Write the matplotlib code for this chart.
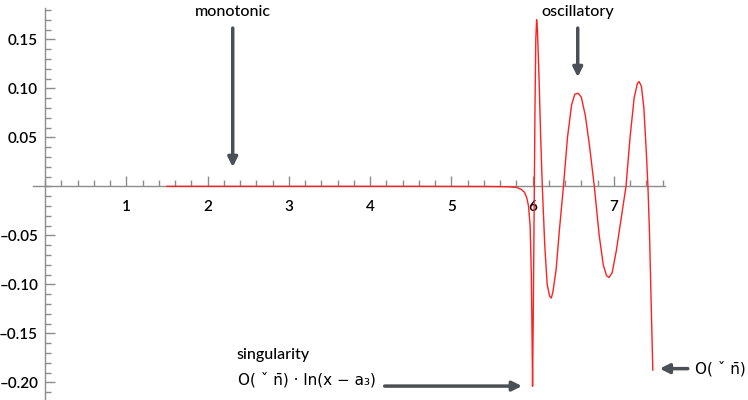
import matplotlib
matplotlib.use("Agg")
import matplotlib.pyplot as plt
from matplotlib.ticker import MultipleLocator, FuncFormatter

plt.rcParams['font.family'] = ['Lato', 'DejaVu Sans']

# curve values
x_vals = [1.5, 3.0, 4.5, 5.5, 5.7, 5.8, 5.86, 5.9, 5.93, 5.95, 5.97, 5.985, 5.995, 6.0,
          6.01, 6.02, 6.03, 6.04, 6.05, 6.06, 6.08, 6.10, 6.12, 6.15, 6.18, 6.21, 6.23,
          6.25, 6.29, 6.33, 6.38, 6.43, 6.48, 6.52, 6.56, 6.60, 6.65, 6.70, 6.76, 6.82,
          6.87, 6.91, 6.94, 6.98, 7.03, 7.09, 7.15, 7.20, 7.25, 7.29, 7.31, 7.34, 7.37,
          7.40, 7.42, 7.44, 7.46, 7.48]
y_vals = [0.0, 0.0, 0.0, -0.0002, -0.0004, -0.001, -0.003, -0.006, -0.012, -0.02, -0.04,
          -0.09, -0.16, -0.204,
          -0.12, -0.02, 0.08, 0.15, 0.17, 0.16, 0.11, 0.05, 0.0, -0.06, -0.10, -0.112, -0.114,
          -0.108, -0.085, -0.045, 0.0, 0.05, 0.083, 0.094, 0.095, 0.091, 0.072, 0.042, 0.0, -0.05,
          -0.08, -0.091, -0.093, -0.088, -0.066, -0.033, 0.0, 0.05, 0.09, 0.105, 0.107, 0.102, 0.08,
          0.035, 0.0, -0.05, -0.12, -0.1875]

x_labels = [1, 2, 3, 4, 5, 6, 7]
y_labels = [-0.20, -0.15, -0.10, -0.05, 0.05, 0.10, 0.15]

arrow_color = "#4a5055"
tick_color = "#8c8c8c"

fig = plt.figure(figsize=(7.48, 4.0), dpi=100)
ax = fig.add_axes([33 / 748, 0, (665 - 33) / 748, (400 - 8) / 400])
ax.set_xlim(-0.148, 7.63)
ax.set_ylim(-0.218, 0.182)

ax.plot(x_vals, y_vals, color="#ff2020", linewidth=1.0, zorder=3)

# Mathematica-like axes crossing at the origin
for s in ["top", "right"]:
    ax.spines[s].set_visible(False)
ax.spines["left"].set_position(("data", 0))
ax.spines["bottom"].set_position(("data", 0))
for s in ["left", "bottom"]:
    ax.spines[s].set_color(tick_color)
    ax.spines[s].set_linewidth(1.0)

ax.set_xticks(x_labels)
ax.set_yticks(y_labels)
ax.xaxis.set_minor_locator(MultipleLocator(0.2))
ax.yaxis.set_minor_locator(MultipleLocator(0.01))
ax.xaxis.set_major_formatter(FuncFormatter(lambda v, p: "%d" % v))
ax.yaxis.set_major_formatter(FuncFormatter(lambda v, p: ("%.2f" % v).replace("-", "\u2013")))
ax.tick_params(axis="both", which="major", direction="in", length=7, width=1,
               color=tick_color, labelsize=11, labelcolor="black")
ax.tick_params(axis="both", which="minor", direction="in", length=4, width=1, color=tick_color)
ax.tick_params(axis="x", which="major", pad=10)
ax.tick_params(axis="y", which="major", pad=5)
for lbl in ax.get_xticklabels() + ax.get_yticklabels():
    lbl.set_fontweight("semibold")

arrow = dict(arrowstyle="-|>", color=arrow_color, lw=2.5, mutation_scale=14,
             shrinkA=0, shrinkB=0)

ax.text(2.31, 0.178, "monotonic", ha="center", va="center", fontsize=11.5, fontweight="medium")
ax.annotate("", xy=(2.31, 0.0197), xytext=(2.31, 0.1615), arrowprops=arrow)

ax.text(6.556, 0.178, "oscillatory", ha="center", va="center", fontsize=11.5, fontweight="medium")
ax.annotate("", xy=(6.556, 0.1115), xytext=(6.556, 0.1615), arrowprops=arrow)

ax.text(2.35, -0.172, "singularity", ha="left", va="center", fontsize=11.5, fontweight="medium")
ax.text(2.37, -0.1975, "O( \u02c7 n\u0304) \u00b7 ln(x \u2212 a\u2083)", ha="left", va="center",
        fontsize=11, family=["DejaVu Sans"])
ax.annotate("", xy=(5.87, -0.2038), xytext=(4.18, -0.2038), arrowprops=arrow)

ax.annotate("", xy=(7.565, -0.186), xytext=(7.91, -0.186), arrowprops=arrow,
            annotation_clip=False)
ax.text(8.0, -0.186, "O( \u02c7 n\u0304)", ha="left", va="center", fontsize=11,
        family=["DejaVu Sans"], clip_on=False)

fig.savefig("out.png", dpi=100)
